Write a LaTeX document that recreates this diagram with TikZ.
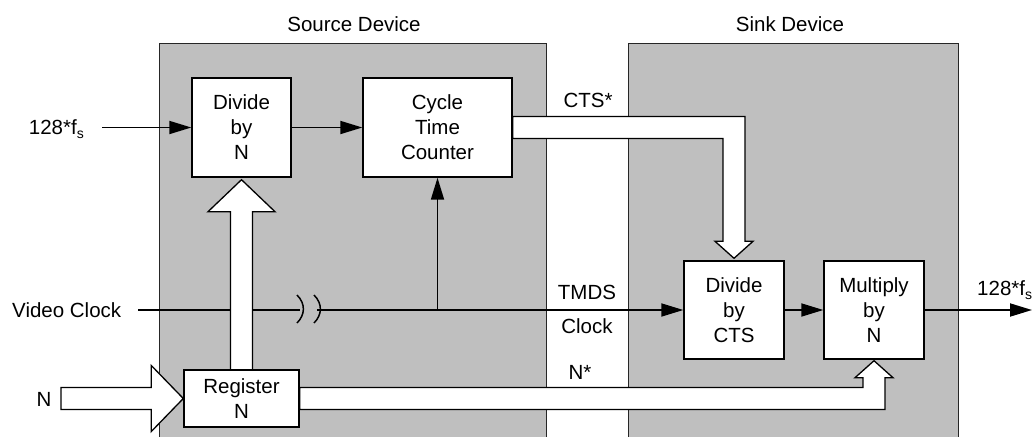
\documentclass[tikz,border=0pt]{standalone}
\usepackage{fontspec}
\setmainfont{Liberation Sans}
\usetikzlibrary{arrows.meta,calc}
\definecolor{devgray}{RGB}{191,191,191}
\newcommand{\fsub}{f\raisebox{-0.45ex}{\fontsize{14}{14}\selectfont s}}
\begin{document}
\begin{tikzpicture}[x=1pt,y=-1pt,
  every node/.style={font=\fontsize{20.5}{25}\selectfont},
  device/.style={draw=black!85,line width=1.2pt,fill=devgray,inner sep=0pt,anchor=north west},
  block/.style={draw,line width=1.4pt,fill=white,align=center,inner sep=0pt},
  wire/.style={line width=1.8pt},
  arr/.style={wire,-{Triangle[length=22pt,width=13pt]}},
  brk/.style={line width=1.5pt},
  hollow/.style={draw,line width=1.3pt,fill=white,line join=miter},
  lbl/.style={inner sep=0pt}
]
\useasboundingbox (0,0) rectangle (1032,436);
\fill[white] (0,0) rectangle (1032,436);

% device boxes
\node[device,minimum width=387pt,minimum height=420pt] (src) at (159,43) {};
\node[device,minimum width=330pt,minimum height=420pt] (snk) at (628,43) {};
\node[lbl,anchor=base] (srclbl) at (354,32) {Source Device};
\node[lbl,anchor=base] (snklbl) at (790,32) {Sink Device};

% blocks
\node[block,minimum width=99pt,minimum height=99pt] (dbn) at (241.5,127.5) {Divide\\by\\N};
\node[block,minimum width=149pt,minimum height=99pt] (ctc) at (437.5,127.5) {Cycle\\Time\\Counter};
\node[block,minimum width=115pt,minimum height=57pt] (reg) at (241.5,398.5) {Register\\N};
\node[block,minimum width=100pt,minimum height=98pt] (dbc) at (734,310) {Divide\\by\\CTS};
\node[block,minimum width=100pt,minimum height=98pt] (mul) at (874,310) {Multiply\\by\\N};

% outside labels
\node[lbl,anchor=base east] (fin) at (84,134) {128*\fsub};
\node[lbl,anchor=base west] (vclbl) at (12,317) {Video Clock};
\node[lbl,anchor=base] (nlbl) at (44,406) {N};
\node[lbl,anchor=base west] (foutlbl) at (977,295) {128*\fsub};
\node[lbl,anchor=base] (ctslbl) at (588,107) {CTS*};
\node[lbl,anchor=base] (tmdslbl) at (587,299) {TMDS};
\node[lbl,anchor=base] (clklbl) at (587,333) {Clock};
\node[lbl,anchor=base] (nslbl) at (580,379) {N*};

% free ends
\coordinate (finend) at (102,127.5);
\coordinate (vcs) at (138,310);
\coordinate (brk1) at (300,310);
\coordinate (brk2) at (317,310);
\coordinate (fout) at (1032,310);
\coordinate (nin) at (61,398.5);

% thin connectors
\draw[arr] (finend) -- (dbn.west);
\draw[arr] (dbn) -- (ctc);
\draw[wire] (vcs) -- (brk1);
\draw[arr] (brk2) -- (dbc.west);
\draw[brk] ($(brk1)+(-3,-15)$) .. controls ($(brk1)+(6,-6)$) and ($(brk1)+(5,5)$) .. ($(brk1)+(-3,13)$);
\draw[brk] ($(brk2)+(-3,-15)$) .. controls ($(brk2)+(6,-6)$) and ($(brk2)+(5,5)$) .. ($(brk2)+(-3,13)$);
\draw[arr] (ctc.south |- vcs) -- (ctc.south);
\draw[arr] (dbc) -- (mul);
\draw[arr] (mul) -- (fout);

% hollow arrow: register -> divide by N
\draw[hollow] ($(reg.north)+(-11,0)$) -- ($(dbn.south)+(-11,34)$) -- ($(dbn.south)+(-33.5,34)$)
  -- ($(dbn.south)+(0,2)$) -- ($(dbn.south)+(33.5,34)$) -- ($(dbn.south)+(11,34)$) -- ($(reg.north)+(11,0)$);

% hollow arrow: N -> register
\draw[hollow] ($(nin)+(0,-11)$) -- ($(reg.west)+(-32,-11)$) -- ($(reg.west)+(-32,-33)$) -- (reg.west)
  -- ($(reg.west)+(-32,33)$) -- ($(reg.west)+(-32,11)$) -- ($(nin)+(0,11)$) -- cycle;

% N* band: register -> multiply
\coordinate (nsA) at ($(reg.east)+(0,-11)$);
\coordinate (nsB) at ($(reg.east)+(0,11)$);
\coordinate (nsI) at ($(mul.south)+(-11,18)$);
\coordinate (nsO) at ($(mul.south)+(11,18)$);
\draw[hollow] (nsB) -- (nsA) -- (nsA -| nsI) -- (nsI) -- ($(mul.south)+(-19,18)$) -- ($(mul.south)+(0,1)$)
  -- ($(mul.south)+(19,18)$) -- (nsO) -- (nsB -| nsO) -- cycle;

% CTS* band: counter -> divide by CTS
\coordinate (csA) at ($(ctc.east)+(0,-11)$);
\coordinate (csB) at ($(ctc.east)+(0,11)$);
\coordinate (csO) at ($(dbc.north)+(11,-19)$);
\coordinate (csI) at ($(dbc.north)+(-11,-19)$);
\draw[hollow] (csA) -- (csA -| csO) -- (csO) -- ($(dbc.north)+(19,-19)$) -- ($(dbc.north)+(0,-2)$)
  -- ($(dbc.north)+(-19,-19)$) -- (csI) -- (csB -| csI) -- (csB) -- cycle;

% redraw block borders on top of band ends
\draw[line width=1.4pt] (reg.north west) rectangle (reg.south east);
\draw[line width=1.4pt] (ctc.north west) rectangle (ctc.south east);
\end{tikzpicture}
\end{document}
